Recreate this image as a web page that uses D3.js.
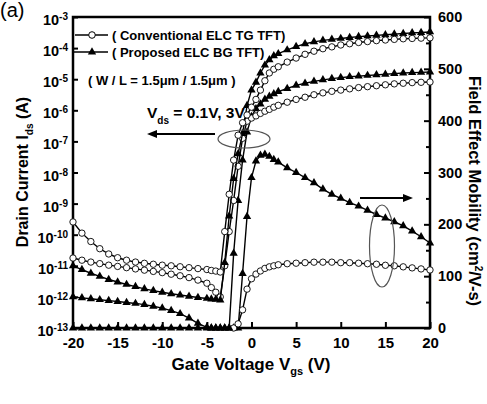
<!DOCTYPE html>
<html>
<head>
<meta charset="utf-8">
<script src="https://cdn.jsdelivr.net/npm/d3@7"></script>
<style>
body { margin: 0; background: #fff; }
svg { display: block; font-family: "Liberation Sans", Arial, sans-serif; font-weight: bold; }
</style>
</head>
<body>
<svg width="487" height="404"></svg>
<script>
// Gate voltage grid (V)
var vgs = [-20, -19, -18, -17, -16, -15, -14, -13, -12, -11, -10, -9, -8, -7, -6, -5,
  -4.5, -4, -3.5, -3, -2.5, -2, -1.5, -1, -0.5, 0, 0.5, 1, 1.5, 2, 2.5, 3,
  4, 5, 6, 7, 8, 9, 10, 11, 12, 13, 14, 15, 16, 17, 18, 19, 20];

// log10 of drain current (A)
var convVds3 = [-9.59, -9.95, -10.22, -10.45, -10.62, -10.74, -10.82, -10.88, -10.92, -10.95, -10.98, -11.0, -11.03, -11.06, -11.09, -11.12,
  -11.15, -11.17, -11.2, -9.9, -8.7, -7.6, -6.8, -6.4, -6.15, -5.9, -5.65, -5.35, -5.05, -4.8, -4.68, -4.6,
  -4.45, -4.32, -4.2, -4.1, -4.02, -3.96, -3.9, -3.86, -3.82, -3.79, -3.76, -3.74, -3.72, -3.7, -3.69, -3.68, -3.67];
var propVds3 = [-11.0, -11.12, -11.24, -11.34, -11.44, -11.52, -11.6, -11.67, -11.74, -11.8, -11.85, -11.9, -11.94, -11.98, -12.02, -12.05,
  -12.07, -12.08, -12.1, -10.9, -9.4, -8.2, -7.4, -6.75, -5.85, -5.35, -5.1, -4.8, -4.55, -4.38, -4.25, -4.18,
  -4.06, -3.95, -3.86, -3.8, -3.75, -3.72, -3.69, -3.66, -3.63, -3.61, -3.59, -3.57, -3.55, -3.53, -3.51, -3.5, -3.48];
var convVds01 = [-10.75, -10.82, -10.88, -10.93, -10.98, -11.02, -11.06, -11.1, -11.14, -11.18, -11.22, -11.27, -11.32, -11.38, -11.46, -11.56,
  -11.7, -11.85, -12.0, -11.0, -9.9, -8.9, -7.8, -6.9, -6.35, -6.25, -6.18, -6.1, -6.03, -5.97, -5.9, -5.84,
  -5.74, -5.65, -5.58, -5.5, -5.44, -5.39, -5.35, -5.31, -5.27, -5.24, -5.21, -5.18, -5.15, -5.13, -5.11, -5.1, -5.09];
var propVds01 = [-12.0, -12.03, -12.06, -12.09, -12.12, -12.15, -12.18, -12.21, -12.25, -12.3, -12.36, -12.44, -12.54, -12.68, -12.85, -12.98,
  -13.0, -13.0, -13.0, -13.0, -13.0, -10.6, -8.9, -7.6, -6.7, -6.2, -5.95, -5.8, -5.65, -5.55, -5.47, -5.4,
  -5.3, -5.2, -5.13, -5.07, -5.02, -4.98, -4.95, -4.92, -4.9, -4.88, -4.86, -4.84, -4.82, -4.8, -4.79, -4.78, -4.77];

// field effect mobility (cm2/V-s)
var convMob = [null, null, null, null, null, null, null, null, null, null, null, null, null, null, null, null,
  null, null, null, null, null, 0, 8, 35, 75, 95, 104, 110, 115, 118, 120, 122,
  124, 125, 126, 127, 127, 127, 126, 126, 125, 124, 123, 121, 120, 118, 116, 114, 112];
var propMob = [0, 0, 0, 0, 0, 0, 0, 0, 0, 0, 0, 0, 0, 0, 0, 0,
  0, 0, 0, 0, 0, 0, 0, 105, 215, 290, 322, 333, 335, 331, 325, 320,
  309, 300, 290, 280, 268, 258, 250, 242, 235, 227, 219, 212, 205, 197, 187, 176, 164];

// ticks
var xTicks = [-20, -15, -10, -5, 0, 5, 10, 15, 20];
var idExps = [-3, -4, -5, -6, -7, -8, -9, -10, -11, -12, -13];
var mobTicks = [0, 100, 200, 300, 400, 500, 600];
var mobMinor = [50, 150, 250, 350, 450, 550];

var svg = d3.select('svg');

var x = d3.scaleLinear().domain([-20, 20]).range([73, 430]);
var yI = d3.scaleLog().domain([1e-13, 1e-3]).range([328, 17]);
var yM = d3.scaleLinear().domain([0, 600]).range([328, 17]);

// axes (ticks inward)
var gx = svg.append('g').attr('transform', 'translate(0,328)')
    .call(d3.axisBottom(x).tickValues(xTicks).tickSize(-6).tickPadding(9).tickFormat(d => String(d)));
var gl = svg.append('g').attr('transform', 'translate(73,0)')
    .call(d3.axisLeft(yI).tickValues(idExps.map(e => Math.pow(10, e))).tickSize(-5).tickFormat(''));
var gr = svg.append('g').attr('transform', 'translate(430,0)')
    .call(d3.axisRight(yM).tickValues(mobTicks).tickSize(-6).tickPadding(8));
var grm = svg.append('g').attr('transform', 'translate(430,0)')
    .call(d3.axisRight(yM).tickValues(mobMinor).tickSize(-4).tickFormat(''));

[gx, gl, gr, grm].forEach(function(g) {
  g.select('.domain').remove();
  g.selectAll('line').attr('stroke', '#000').attr('stroke-width', 2);
  g.selectAll('text').attr('fill', '#000').style('font-size', '15px').style('font-weight', 'bold')
    .style('font-family', '"Liberation Sans", Arial, sans-serif');
});
gr.selectAll('text').style('font-size', '14.5px');

// frame
svg.append('rect').attr('x', 73).attr('y', 17).attr('width', 357).attr('height', 311)
    .attr('fill', 'none').attr('stroke', '#000').attr('stroke-width', 2.5);

// left tick labels 10^n
var lab = svg.append('g').selectAll('text').data(idExps).enter().append('text')
    .attr('x', 68).attr('y', d => yI(Math.pow(10, d)) + 8)
    .attr('text-anchor', 'end').style('font-size', '14.5px');
lab.append('tspan').text('10');
lab.append('tspan').attr('dy', -5).style('font-size', '10px').text(d => d);

// curves
var idLine = d3.line().x((d, i) => x(vgs[i])).y(d => yI(Math.pow(10, d)));
var mobLine = d3.line().defined(d => d != null).x((d, i) => x(vgs[i])).y(d => yM(d));

var tri = d3.symbol().type(d3.symbolTriangle).size(30);

function drawSeries(vals, lineGen, yFn, marker) {
  svg.append('path').datum(vals).attr('d', lineGen)
      .attr('fill', 'none').attr('stroke', '#000').attr('stroke-width', 1.4);
  var pts = vals.map((v, i) => [vgs[i], v]).filter(p => p[1] != null);
  var g = svg.append('g');
  if (marker === 'tri') {
    g.selectAll('path').data(pts).enter().append('path')
        .attr('d', tri)
        .attr('transform', p => 'translate(' + x(p[0]) + ',' + yFn(p[1]) + ')')
        .attr('fill', '#000');
  } else {
    g.selectAll('circle').data(pts).enter().append('circle')
        .attr('cx', p => x(p[0])).attr('cy', p => yFn(p[1])).attr('r', 3.2)
        .attr('fill', '#fff').attr('stroke', '#000').attr('stroke-width', 0.9);
  }
}

var yLog = v => yI(Math.pow(10, v));
drawSeries(propMob, mobLine, yM, 'tri');
drawSeries(convMob, mobLine, yM, 'circle');
drawSeries(propVds01, idLine, yLog, 'tri');
drawSeries(convVds01, idLine, yLog, 'circle');
drawSeries(propVds3, idLine, yLog, 'tri');
drawSeries(convVds3, idLine, yLog, 'circle');

// legend
svg.append('line').attr('x1', 75).attr('x2', 108).attr('y1', 35).attr('y2', 35)
    .attr('stroke', '#000').attr('stroke-width', 1.4);
svg.append('circle').attr('cx', 92).attr('cy', 35).attr('r', 3.3)
    .attr('fill', '#fff').attr('stroke', '#000').attr('stroke-width', 1);
svg.append('line').attr('x1', 73).attr('x2', 108).attr('y1', 52).attr('y2', 52)
    .attr('stroke', '#000').attr('stroke-width', 1.4);
svg.append('path').attr('d', tri).attr('transform', 'translate(92,52)').attr('fill', '#000');
svg.append('text').attr('x', 112).attr('y', 40).style('font-size', '13px').text('( Conventional ELC TG TFT)');
svg.append('text').attr('x', 112).attr('y', 57).style('font-size', '13px').text('( Proposed ELC BG TFT)');
svg.append('text').attr('x', 88).attr('y', 85).style('font-size', '13px').text('( W / L = 1.5\u03bcm / 1.5\u03bcm )');

// Vds annotation
var vt = svg.append('text').attr('x', 147).attr('y', 118).style('font-size', '15.5px');
vt.append('tspan').text('V');
vt.append('tspan').attr('dy', 6).style('font-size', '10px').text('ds');
vt.append('tspan').attr('dy', -6).text(' = 0.1V, 3V');

// arrows and ellipses
svg.append('line').attr('x1', 215).attr('x2', 155).attr('y1', 134).attr('y2', 134)
    .attr('stroke', '#000').attr('stroke-width', 2);
svg.append('path').attr('d', 'M147,134 L157,130 L157,138 Z').attr('fill', '#000');
svg.append('line').attr('x1', 360).attr('x2', 404).attr('y1', 198).attr('y2', 198)
    .attr('stroke', '#000').attr('stroke-width', 2);
svg.append('path').attr('d', 'M413,198 L403,194 L403,202 Z').attr('fill', '#000');
svg.append('ellipse').attr('cx', 244).attr('cy', 139).attr('rx', 26).attr('ry', 9)
    .attr('fill', 'none').attr('stroke', '#555').attr('stroke-width', 1.2);
svg.append('ellipse').attr('cx', 382).attr('cy', 246).attr('rx', 12.5).attr('ry', 41)
    .attr('fill', 'none').attr('stroke', '#555').attr('stroke-width', 1.2);

// axis titles
var xt = svg.append('text').attr('x', 251).attr('y', 370).attr('text-anchor', 'middle').style('font-size', '17px');
xt.append('tspan').text('Gate Voltage V');
xt.append('tspan').attr('dy', 5).style('font-size', '11px').text('gs');
xt.append('tspan').attr('dy', -5).text(' (V)');

var lt = svg.append('text').attr('transform', 'translate(28,172) rotate(-90)')
    .attr('text-anchor', 'middle').style('font-size', '16px');
lt.append('tspan').text('Drain Current I');
lt.append('tspan').attr('dy', 5).style('font-size', '10px').text('ds');
lt.append('tspan').attr('dy', -5).text(' (A)');

var rt = svg.append('text').attr('transform', 'translate(469,191) rotate(90)')
    .attr('text-anchor', 'middle').style('font-size', '16.5px');
rt.append('tspan').text('Field Effect Mobility (cm');
rt.append('tspan').attr('dy', -6).style('font-size', '10px').text('2');
rt.append('tspan').attr('dy', 6).text('/V-s)');

// panel label
svg.append('text').attr('x', 0).attr('y', 17).style('font-size', '20px').style('font-weight', 'normal').text('(a)');
</script>
</body>
</html>
